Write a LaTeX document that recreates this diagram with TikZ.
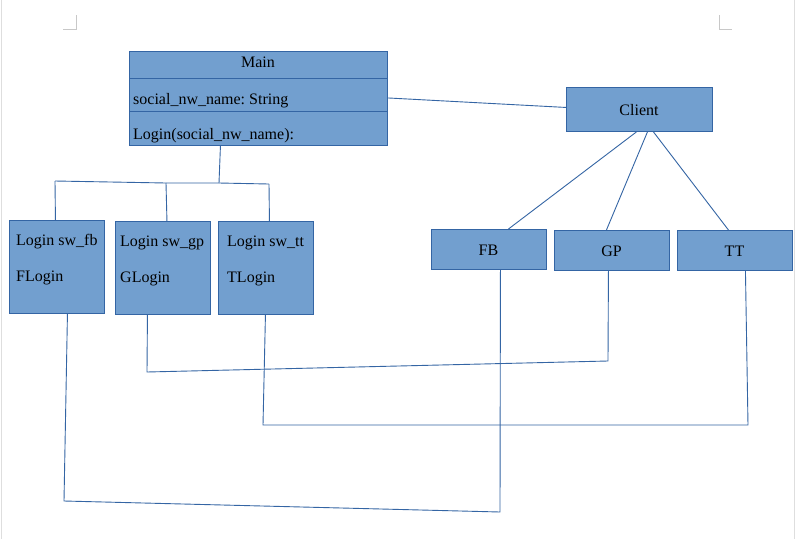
\documentclass[tikz,border=0pt]{standalone}
\usepackage{fontspec}
\setmainfont{Liberation Serif}
\frenchspacing
\definecolor{boxfill}{HTML}{729FCF}
\definecolor{boxline}{HTML}{3465A4}
\definecolor{markgray}{HTML}{C8C8C8}
\tikzset{
  box/.style={draw=boxline, fill=boxfill, line width=0.9pt, inner sep=0pt, anchor=north west},
  lbl/.style={inner sep=0pt, font=\fontsize{16}{19}\selectfont\frenchspacing, text=black},
  conn/.style={draw=boxline, line width=0.9pt},
  pagemark/.style={draw=markgray, line width=1pt}
}
\begin{document}
\begin{tikzpicture}[x=1pt,y=-1pt]
\useasboundingbox (0,0) rectangle (796,539);
\fill[white] (0,0) rectangle (796,539);
% page edges and corner marks
\draw[pagemark, draw=markgray!60] (1,0) -- (1,539);
\draw[pagemark, draw=markgray!60] (794,0) -- (794,539);
\draw[pagemark] (76,15) -- (76,29) -- (63,29);
\draw[pagemark] (719,15) -- (719,29) -- (732,29);

% Main class box
\node[box, minimum width=258pt, minimum height=27pt] (mainA) at (129,51) {};
\node[box, minimum width=258pt, minimum height=33pt] (mainB) at (129,78) {};
\node[box, minimum width=258pt, minimum height=34pt] (mainC) at (129,111) {};
\node[lbl] (mainT) at (258,62.5) {Main};
\node[lbl, anchor=west] (attrT) at (133,101) {social\_nw\_name: String};
\node[lbl, anchor=west] (methT) at (133,136) {Login(social\_nw\_name):};

% Client and networks
\node[box, minimum width=146pt, minimum height=44pt] (client) at (566,87) {};
\node[lbl] (clientT) at (639,110.5) {Client};
\node[box, minimum width=115pt, minimum height=40pt] (fb) at (431,229) {};
\node[lbl] (fbT) at (488.5,250.5) {FB};
\node[box, minimum width=115pt, minimum height=40pt] (gp) at (554,230) {};
\node[lbl] (gpT) at (611.5,251.5) {GP};
\node[box, minimum width=115pt, minimum height=40pt] (tt) at (677,230) {};
\node[lbl] (ttT) at (734.5,251.5) {TT};

% Login boxes
\node[box, minimum width=95pt, minimum height=93pt] (lfb) at (9,220) {};
\node[lbl, anchor=west] (lfbA) at (16,241.5) {Login sw\_fb};
\node[lbl, anchor=west] (lfbB) at (16,277.5) {FLogin};
\node[box, minimum width=95pt, minimum height=93pt] (lgp) at (115,221) {};
\node[lbl, anchor=west] (lgpA) at (120,242.5) {Login sw\_gp};
\node[lbl, anchor=west] (lgpB) at (120,278.5) {GLogin};
\node[box, minimum width=95pt, minimum height=93pt] (ltt) at (218,221) {};
\node[lbl, anchor=west] (lttA) at (227,242.5) {Login sw\_tt};
\node[lbl, anchor=west] (lttB) at (227,278.5) {TLogin};

% Main -- Client
\draw[conn] ([yshift=-3pt]mainB.east) -- ([yshift=2pt]client.west);
% Client -- networks
\draw[conn] ([xshift=-3pt]client.south) -- ([xshift=19.5pt]fb.north);
\draw[conn] ([xshift=8pt]client.south) -- ([xshift=-5.5pt]gp.north);
\draw[conn] ([xshift=14pt]client.south) -- ([xshift=-6.5pt]tt.north);

% Main -- Login tree
\coordinate (b0) at (55,181);
\coordinate (b1) at (166,183);
\coordinate (b2) at (219,183);
\coordinate (b3) at (269,184);
\draw[conn] ([xshift=-38pt]mainC.south) -- (b2);
\draw[conn] (b0) -- (b1) -- (b2) -- (b3);
\draw[conn] (b0) -- ([xshift=-1.5pt]lfb.north);
\draw[conn] (b1) -- ([xshift=4pt]lgp.north);
\draw[conn] (b3) -- ([xshift=3.5pt]ltt.north);

% Login -- network connectors
\coordinate (f1) at (64,501);
\coordinate (f2) at (500,512);
\draw[conn] ([xshift=10.5pt]lfb.south) -- (f1) -- (f2) -- ([xshift=11.5pt]fb.south);
\coordinate (g1) at (147,372);
\coordinate (g2) at (608,361);
\draw[conn] ([xshift=-15.5pt]lgp.south) -- (g1) -- (g2) -- ([xshift=-3.5pt]gp.south);
\coordinate (t1) at (263,425);
\coordinate (t2) at (748,425);
\draw[conn] ([xshift=-0.5pt]ltt.south) -- (t1) -- (t2) -- ([xshift=10.5pt]tt.south);
\end{tikzpicture}
\end{document}
